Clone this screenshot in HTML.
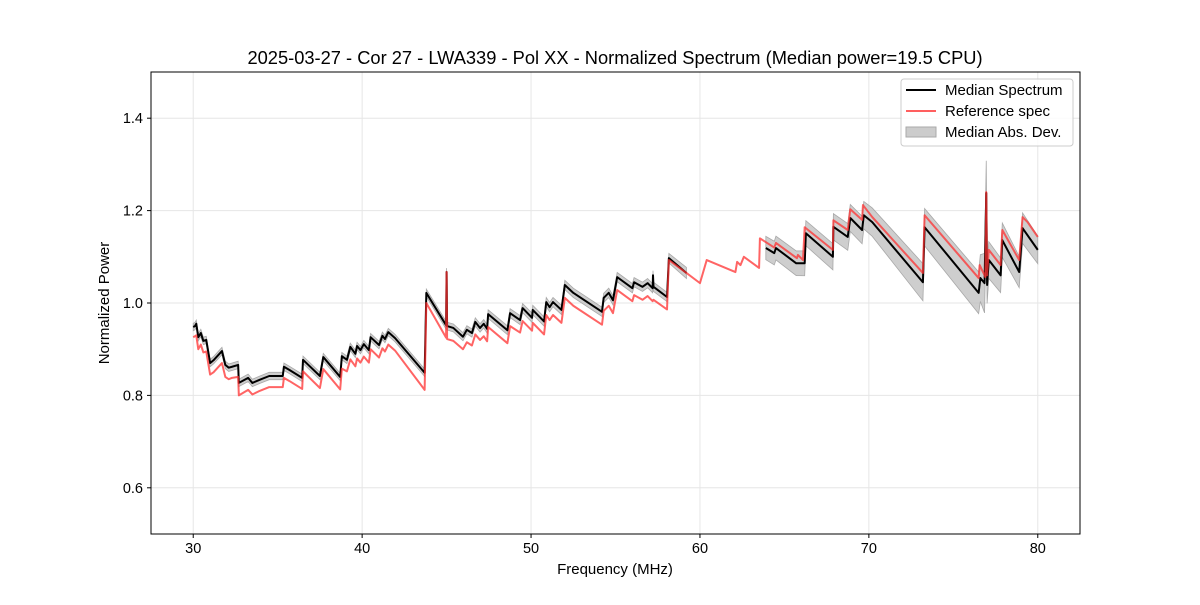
<!DOCTYPE html>
<html><head><meta charset="utf-8"><style>
body{margin:0;background:#fff;font-family:"Liberation Sans",sans-serif}
svg text{font-family:"Liberation Sans",sans-serif;fill:#000}
</style></head><body>
<svg id="chart" width="1200" height="600" xmlns="http://www.w3.org/2000/svg">
<rect width="1200" height="600" fill="#fff"/>
<text x="615" y="64" font-size="18.3" text-anchor="middle">2025-03-27 - Cor 27 - LWA339 - Pol XX - Normalized Spectrum (Median power=19.5 CPU)</text>
<g id="grid"></g><g id="series"></g>
<rect x="151" y="72" width="929" height="462" fill="none" stroke="#000" stroke-width="1"/>
<g id="ticks"></g>
<text x="615" y="574" font-size="15" text-anchor="middle">Frequency (MHz)</text>
<text x="109" y="303" font-size="15" text-anchor="middle" transform="rotate(-90 109 303)">Normalized Power</text>
<g>
<rect x="901" y="79" width="172" height="67" rx="3" fill="#fff" fill-opacity="0.8" stroke="#ccc"/>
<line x1="906" y1="90" x2="936" y2="90" stroke="#000" stroke-width="2"/>
<text x="945" y="95" font-size="15">Median Spectrum</text>
<line x1="906" y1="111" x2="936" y2="111" stroke="#ff5f5f" stroke-width="2"/>
<text x="945" y="116" font-size="15">Reference spec</text>
<rect x="906" y="127" width="30" height="10" fill="#cccccc" stroke="#aaa"/>
<text x="945" y="137" font-size="15">Median Abs. Dev.</text>
</g>
</svg>
<script>
const xTicks=[30,40,50,60,70,80];
const yTicks=[0.6,0.8,1.0,1.2,1.4];
const medianFreq=[30.0,30.1,30.18,30.3,30.45,30.6,30.77,31.0,31.2,31.7,31.9,32.1,32.3,32.66,32.7,33.25,33.5,33.95,34.5,35.3,35.37,35.7,36.45,36.5,37.5,37.7,38.7,38.8,39.1,39.3,39.6,39.7,39.9,40.1,40.4,40.5,41.0,41.2,41.35,41.55,41.95,43.7,43.8,44.97,45.0,45.03,45.4,45.97,46.2,46.5,46.7,46.98,47.2,47.4,47.46,48.6,48.76,49.35,49.5,50.06,50.1,50.77,50.9,51.1,51.3,51.8,52.0,52.5,54.2,54.3,54.6,54.85,55.1,56.0,56.1,56.6,56.9,57.2,57.22,57.25,58.05,58.16,59.2,
61.0,
63.9,64.4,64.5,65.7,66.2,66.27,67.87,67.9,68.75,68.9,69.6,69.7,70.2,73.2,73.3,76.5,76.6,76.85,76.95,77.0,77.1,77.8,77.9,78.9,79.1,80.0];
const medianVal=[.948,.95,.955,.926,.935,.918,.92,.87,.876,.896,.866,.86,.862,.866,.827,.838,.827,.834,.842,.842,.862,.855,.838,.877,.842,.883,.84,.885,.877,.905,.89,.907,.898,.911,.898,.926,.909,.929,.922,.937,.924,.849,1.022,.952,1.067,.95,.946,.927,.942,.935,.959,.946,.955,.944,.976,.941,.978,.963,.989,.968,.985,.96,1.002,.991,1.002,.985,1.039,1.022,.981,1.011,1.022,1.006,1.056,1.032,1.045,1.035,1.043,1.032,1.06,1.035,1.013,1.097,1.065,
null,
1.119,1.108,1.119,1.086,1.086,1.151,1.1,1.165,1.143,1.184,1.158,1.19,1.175,1.045,1.164,1.022,1.054,1.043,1.238,1.039,1.093,1.06,1.136,1.067,1.162,1.115];
const refFreq=[30.0,30.1,30.18,30.3,30.45,30.6,30.77,31.0,31.2,31.7,31.9,32.1,32.3,32.66,32.7,33.25,33.5,33.95,34.5,35.3,35.37,35.7,36.45,36.5,37.5,37.7,38.7,38.8,39.1,39.3,39.6,39.7,39.9,40.1,40.4,40.5,41.0,41.2,41.35,41.55,41.95,43.7,43.8,44.97,45.0,45.03,45.4,45.97,46.2,46.5,46.7,46.98,47.2,47.4,47.46,48.6,48.76,49.35,49.5,50.06,50.1,50.77,50.9,51.1,51.3,51.8,52.0,52.5,54.2,54.3,54.6,54.85,55.1,56.0,56.1,56.6,56.9,57.2,57.22,57.25,58.05,58.16,59.2,
60.0,60.4,62.1,62.2,62.4,62.6,63.5,63.55,64.4,64.5,65.74,65.8,66.1,66.2,67.87,67.9,68.75,68.9,69.6,69.65,70.2,73.2,73.3,76.5,76.56,76.9,76.95,77.0,77.1,77.8,77.9,78.9,79.1,79.4,80.0];
const refVal=[.926,.928,.93,.9,.91,.893,.895,.845,.85,.87,.84,.835,.838,.84,.800,.812,.802,.81,.818,.818,.838,.831,.814,.852,.816,.857,.813,.858,.852,.878,.863,.88,.871,.884,.871,.9,.882,.902,.895,.91,.897,.812,1.0,.925,1.067,.922,.918,.9,.915,.908,.932,.92,.928,.917,.948,.913,.95,.936,.961,.94,.957,.932,.974,.963,.974,.957,1.011,.994,.953,.983,.994,.978,1.028,1.004,1.017,1.007,1.015,1.004,1.006,1.007,.986,1.093,1.065,
1.043,1.093,1.067,1.089,1.082,1.1,1.076,1.14,1.12,1.13,1.097,1.104,1.093,1.164,1.115,1.179,1.158,1.203,1.18,1.212,1.186,1.065,1.19,1.054,1.082,1.056,1.24,1.06,1.115,1.082,1.158,1.093,1.186,1.175,1.143];
const madFreq=[30,43.8,50,58,59.2,63.6,70,73,76.5,76.95,77,80];
const madHalf=[.008,.008,.01,.01,.012,.025,.03,.04,.045,.07,.04,.03];

const X0=151,X1=1080,Y0=534,Y1=72;
const xs=f=>X0+(f-27.5)/(82.5-27.5)*(X1-X0);
const ys=v=>Y0-(v-0.5)/(1.0)*(Y0-Y1);
function madAt(f){for(let i=1;i<madFreq.length;i++){if(f<=madFreq[i]){const t=(f-madFreq[i-1])/(madFreq[i]-madFreq[i-1]);return madHalf[i-1]+t*(madHalf[i]-madHalf[i-1]);}}return madHalf[madHalf.length-1];}
const NS='http://www.w3.org/2000/svg';
const grid=document.getElementById('grid'),ticks=document.getElementById('ticks'),ser=document.getElementById('series');
xTicks.forEach(t=>{const x=xs(t);
const g=document.createElementNS(NS,'line');g.setAttribute('x1',x);g.setAttribute('x2',x);g.setAttribute('y1',Y1);g.setAttribute('y2',Y0);g.setAttribute('stroke','#e6e6e6');


grid.appendChild(g);
const tk=document.createElementNS(NS,'line');tk.setAttribute('x1',x);tk.setAttribute('x2',x);tk.setAttribute('y1',Y0);tk.setAttribute('y2',Y0+4);tk.setAttribute('stroke','#000');


ticks.appendChild(tk);
const tx=document.createElementNS(NS,'text');tx.setAttribute('x',x);tx.setAttribute('y',Y0+19);tx.setAttribute('font-size','14.5');tx.setAttribute('text-anchor','middle');tx.textContent=t;


ticks.appendChild(tx);});
yTicks.forEach(t=>{const y=ys(t);
const g=document.createElementNS(NS,'line');g.setAttribute('x1',X0);g.setAttribute('x2',X1);g.setAttribute('y1',y);g.setAttribute('y2',y);g.setAttribute('stroke','#e6e6e6');


grid.appendChild(g);
const tk=document.createElementNS(NS,'line');tk.setAttribute('x1',X0-4);tk.setAttribute('x2',X0);tk.setAttribute('y1',y);tk.setAttribute('y2',y);tk.setAttribute('stroke','#000');


ticks.appendChild(tk);
const tx=document.createElementNS(NS,'text');tx.setAttribute('x',X0-8);tx.setAttribute('y',y+5);tx.setAttribute('font-size','14.5');tx.setAttribute('text-anchor','end');tx.textContent=t.toFixed(1);


ticks.appendChild(tx);});
const segs=[];let cur=[];
medianFreq.forEach((f,i)=>{if(medianVal[i]===null){if(cur.length)segs.push(cur);cur=[];}else cur.push([f,medianVal[i]]);});
if(cur.length)segs.push(cur);
segs.forEach(s=>{
 const up=s.map(p=>xs(p[0])+','+ys(p[1]+madAt(p[0]))),lo=s.slice().reverse().map(p=>xs(p[0])+','+ys(p[1]-madAt(p[0])));
 const poly=document.createElementNS(NS,'polygon');poly.setAttribute('points',up.concat(lo).join(' '));poly.setAttribute('fill','#bdbdbd');poly.setAttribute('fill-opacity','0.75');poly.setAttribute('stroke','#a8a8a8');poly.setAttribute('stroke-width','0.8');
 
 
 ser.appendChild(poly);});
segs.forEach(s=>{const pl=document.createElementNS(NS,'polyline');pl.setAttribute('points',s.map(p=>xs(p[0])+','+ys(p[1])).join(' '));pl.setAttribute('fill','none');pl.setAttribute('stroke','#000');pl.setAttribute('stroke-width','2');pl.setAttribute('stroke-linejoin','round');
 
 
 ser.appendChild(pl);});
const rl=document.createElementNS(NS,'polyline');rl.setAttribute('points',refFreq.map((f,i)=>xs(f)+','+ys(refVal[i])).join(' '));rl.setAttribute('fill','none');rl.setAttribute('stroke','#ff3030');rl.setAttribute('stroke-opacity','0.75');rl.setAttribute('stroke-width','2');rl.setAttribute('stroke-linejoin','round');


ser.appendChild(rl);
</script>
</body></html>
